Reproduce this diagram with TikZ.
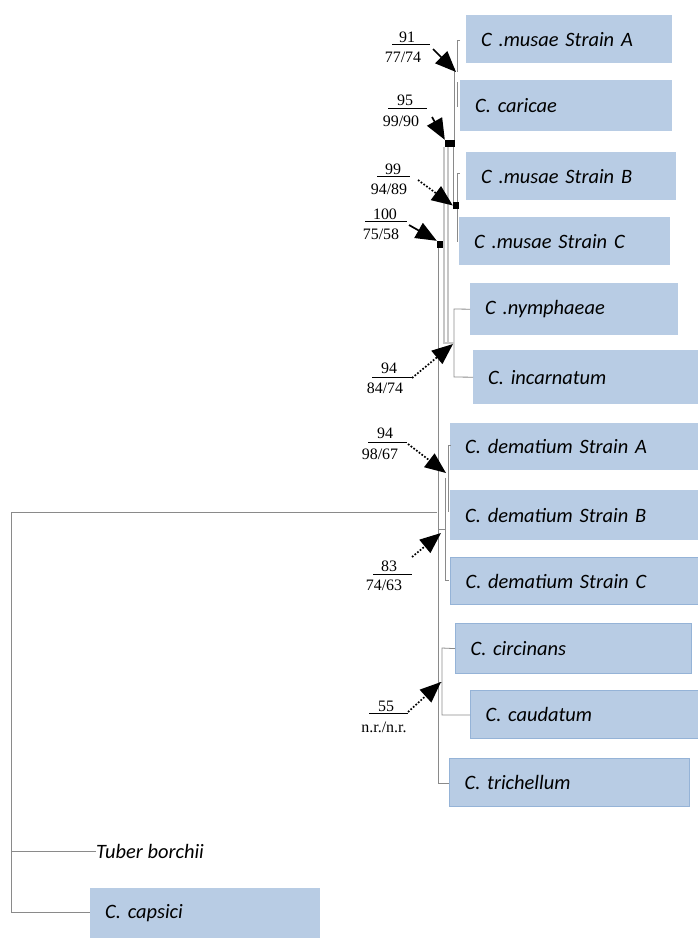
\documentclass[tikz,border=0pt]{standalone}
\usepackage{fontspec}
\setmainfont{Liberation Serif}
\newfontfamily\taxfont{Carlito}
\usetikzlibrary{arrows.meta}
\definecolor{boxblue}{HTML}{B8CCE4}
\definecolor{boxedge}{HTML}{95B3D7}
\definecolor{treegray}{HTML}{8A8A8A}
\tikzset{
  taxon/.style={fill=boxblue, draw=none, anchor=north west, inner xsep=15bp, inner ysep=0pt,
    align=left, font=\taxfont\itshape\fontsize{20.5}{24}\selectfont},
  edged/.style={taxon, draw=boxedge, line width=1.2bp},
  branch/.style={draw=treegray, line width=0.8bp},
  band/.style={draw=gray!45, line width=1.3bp},
  num/.style={font=\fontsize{16}{18}\selectfont, inner sep=0pt},
  rulebar/.style={line width=0.9bp},
  sarrow/.style={line width=1.7bp, -{Triangle[length=21bp,width=17bp]}},
  darrow/.style={sarrow, dash pattern=on 1.7bp off 1.7bp},
  knot/.style={fill=black, inner sep=0pt},
}
\begin{document}
\begin{tikzpicture}[x=1bp,y=-1bp]
\useasboundingbox (0,0) rectangle (698,938);

% taxa boxes
\node[taxon, text width=176bp, minimum height=48bp] (musaeA) at (466,15) {C .musae Strain A};
\node[taxon, text width=182bp, minimum height=51bp] (caricae) at (460,80) {C. caricae};
\node[taxon, text width=180bp, minimum height=48bp] (musaeB) at (466,152) {C .musae Strain B};
\node[taxon, text width=181bp, minimum height=48bp] (musaeC) at (459,217) {C .musae Strain C};
\node[taxon, text width=178bp, minimum height=52bp] (nymph) at (470,283) {C .nymphaeae};
\node[taxon, text width=195bp, minimum height=54bp] (incarn) at (473,350) {C. incarnatum};
\node[taxon, text width=218bp, minimum height=47bp] (demA) at (450,423) {C. dematium Strain A};
\node[taxon, text width=218bp, minimum height=50bp] (demB) at (450,490) {C. dematium Strain B};
\node[edged, text width=218bp, minimum height=47bp] (demC) at (450,557) {C. dematium Strain C};
\node[edged, text width=206bp, minimum height=50bp] (circ) at (455,623) {C. circinans};
\node[edged, text width=198bp, minimum height=48bp] (caud) at (470,690) {C. caudatum};
\node[edged, text width=210bp, minimum height=48bp] (trich) at (449,758) {C. trichellum};
\node[taxon, text width=200bp, minimum height=50bp] (capsici) at (90,888) {C. capsici};
\node[font=\taxfont\itshape\fontsize{20.5}{24}\selectfont, anchor=west, inner sep=0pt] (tuber) at (96,851) {Tuber borchii};

% tree
\coordinate (root) at (11,512);
\draw[branch] (437,512) -- (root) -- (11,912) -- (11,912 -| capsici.west);
\draw[branch] (11,851) -- (tuber.west);
\draw[branch] (438,245) -- (438,783) -- (438,783 -| trich.west);
\draw[branch] (438,682) -- (442,682);
\draw[branch] (circ.west) -- (442,648) -- (442,715) -- (442,715 -| caud.west);
\draw[branch] (451,445) -- (448,445) -- (448,512);
\draw[branch] (445,478) -- (445,580) -- (449,580);
\draw[branch] (438,529) -- (445,529);
\draw[branch] (nymph.west) -- (454,309) -- (454,377) -- (incarn.west);
\draw[band] (444,147) -- (444,343) -- (454,343);
\draw[band] (448,147) -- (448,343);
\draw[branch] (453,147) -- (453,203);
\draw[branch] (460,40) -- (457,40) -- (457,72);
\draw[branch] (454,68) -- (454,140);
\draw[branch] (457,82) -- (457,107);
\draw[branch] (460,173) -- (457,173) -- (457,242);

% knots
\node[knot, minimum width=10bp, minimum height=7bp] (k95) at (450,143.5) {};
\node[knot, minimum width=6bp, minimum height=7bp] (k99) at (456,205.5) {};
\node[knot, minimum width=6bp, minimum height=7bp] (k100) at (440,244.5) {};

% support labels
\node[num] (t91) at (407,37) {91};
\draw[rulebar] (392,44) -- (430,44);
\node[num] (b91) at (403,57) {77/74};
\coordinate (a91) at (433,49);
\coordinate (h91) at (456,72);
\draw[sarrow] (a91) -- (h91);

\node[num] (t95) at (405,100) {95};
\draw[rulebar] (388,108) -- (427,108);
\node[num] (b95) at (401,121) {99/90};
\coordinate (a95) at (432,117);
\draw[sarrow] (a95) -- (k95.north west);

\node[num] (t99) at (393,169) {99};
\draw[rulebar] (377,176) -- (410,176);
\node[num] (b99) at (389,189) {94/89};
\coordinate (a99) at (418,180);
\draw[darrow] (a99) -- (k99.west);

\node[num] (t100) at (385,214) {100};
\draw[rulebar] (365,221) -- (407,221);
\node[num] (b100) at (381,234) {75/58};
\coordinate (a100) at (409,225);
\draw[sarrow] (a100) -- (k100.north west);

\node[num] (t94a) at (389,368) {94};
\draw[rulebar] (372,377) -- (412,377);
\node[num] (b94a) at (385,388) {84/74};
\coordinate (a94a) at (412,378);
\coordinate (h94a) at (453,344);
\draw[darrow] (a94a) -- (h94a);

\node[num] (t94b) at (385,433) {94};
\draw[rulebar] (368,442) -- (407,442);
\node[num] (b94b) at (380,454) {98/67};
\coordinate (a94b) at (408,444);
\coordinate (h94b) at (446,473);
\draw[darrow] (a94b) -- (h94b);

\node[num] (t83) at (389,566) {83};
\draw[rulebar] (373,574) -- (412,574);
\node[num] (b83) at (384,585) {74/63};
\coordinate (a83) at (412,557);
\coordinate (h83) at (441,533);
\draw[darrow] (a83) -- (h83);

\node[num] (t55) at (386,706) {55};
\draw[rulebar] (369,713) -- (408,713);
\node[num] (b55) at (384,727) {n.r./n.r.};
\coordinate (a55) at (408,712);
\coordinate (h55) at (441,682);
\draw[darrow] (a55) -- (h55);
\end{tikzpicture}
\end{document}
